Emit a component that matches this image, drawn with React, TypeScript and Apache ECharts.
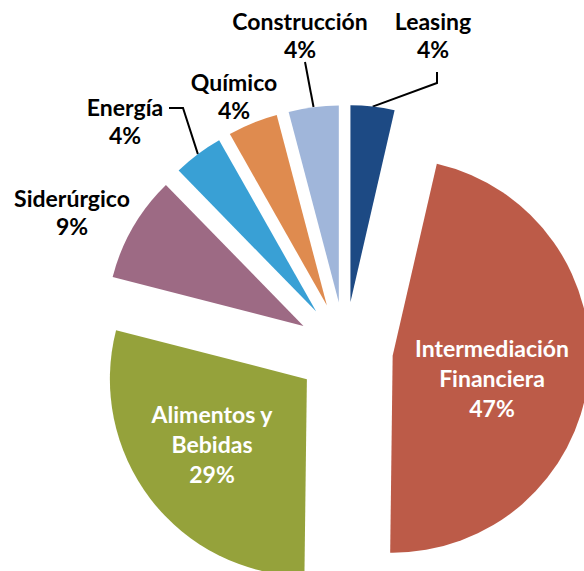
import React, { useEffect, useRef } from "react";
import * as echarts from "echarts";

const categories = [
  "Leasing",
  "Intermediación Financiera",
  "Alimentos y Bebidas",
  "Siderúrgico",
  "Energía",
  "Químico",
  "Construcción",
];
const values = [3.6, 46.6, 28.8, 8.7, 4.1, 4.1, 4.1];
const colors = ["#1D4A84", "#BC5B48", "#95A23B", "#9D6A84", "#39A0D5", "#DF8B4F", "#A0B6DA"];

const CENTER: [number, number] = [345, 350];
const RADIUS = 197;
const EXPLODE = 48;

// label placement (center x, center y) and leader-line bend points
const labelPos: Record<number, [number, number]> = {
  0: [433, 35],
  1: [492, 378],
  2: [212, 444],
  3: [72, 212],
  4: [125, 121],
  5: [234, 96],
  6: [300, 35],
};
const linePts: Record<number, number[][]> = {
  0: [[437, 83], [437, 72]],
  4: [[183, 108], [169, 108]],
  6: [[305, 62]],
};

export default function App() {
  const ref = useRef<HTMLDivElement>(null);
  useEffect(() => {
    if (!ref.current) return;
    const chart = echarts.init(ref.current, null, { renderer: "svg" });
    const FONT = "Lato, 'Open Sans', sans-serif";
    const formatter = (p: any) =>
      p.name.replace("Intermediación ", "Intermediación\n").replace("Alimentos y ", "Alimentos y\n") +
      "\n" +
      Math.round(p.value) +
      "%";
    chart.setOption({
      animation: false,
      series: [
        {
          type: "pie",
          center: CENTER,
          radius: [0, RADIUS],
          startAngle: 90,
          clockwise: true,
          selectedMode: "multiple",
          selectedOffset: EXPLODE,
          emphasis: { disabled: true },
          silent: true,
          label: { show: false },
          labelLine: { show: false },
          data: categories.map((name, i) => ({
            name,
            value: values[i],
            selected: true,
            itemStyle: { color: colors[i] },
          })),
        },
        {
          type: "pie",
          center: CENTER,
          radius: [0, RADIUS],
          startAngle: 90,
          clockwise: true,
          avoidLabelOverlap: false,
          emphasis: { disabled: true },
          silent: true,
          itemStyle: { color: "rgba(0,0,0,0)" },
          data: categories.map((name, i) => {
            const inside = i === 1 || i === 2;
            return {
              name,
              value: values[i],
              label: {
                show: true,
                position: inside ? "inside" : "outside",
                color: inside ? "#ffffff" : "#000000",
                fontFamily: FONT,
                fontWeight: "bold",
                fontSize: 23,
                lineHeight: inside ? 30 : 28,
                align: "center",
                overflow: "none",
                formatter,
              },
              labelLine: {
                show: !!linePts[i],
                lineStyle: { color: "#000000", width: 2 },
                smooth: false,
              },
            };
          }),
          labelLayout: (params: any) => {
            const i = params.dataIndex;
            const pos = labelPos[i];
            const out: any = {
              x: pos[0],
              y: pos[1],
              align: "center",
              verticalAlign: "middle",
            };
            if (linePts[i] && params.labelLinePoints) {
              const p0 = params.labelLinePoints[0];
              const vx = p0[0] - CENTER[0];
              const vy = p0[1] - CENTER[1];
              const len = Math.sqrt(vx * vx + vy * vy) || 1;
              const start = [p0[0] + (vx / len) * EXPLODE, p0[1] + (vy / len) * EXPLODE];
              out.labelLinePoints = [start, ...linePts[i]];
            }
            return out;
          },
        },
      ],
    });
    return () => chart.dispose();
  }, []);
  return (
    <div
      ref={ref}
      style={{ position: "fixed", left: 0, top: 0, width: 584, height: 571, background: "#fff" }}
    />
  );
}
